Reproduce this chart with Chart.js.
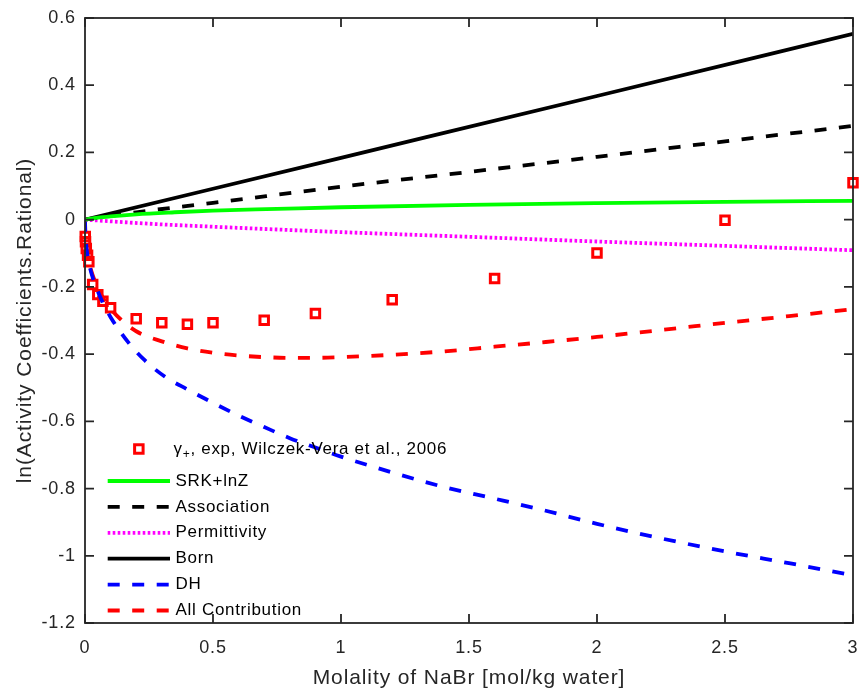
<!DOCTYPE html>
<html>
<head>
<meta charset="utf-8">
<script src="https://cdn.jsdelivr.net/npm/chart.js@4.4.1/dist/chart.umd.min.js"></script>
<style>
html,body{margin:0;padding:0;background:#ffffff;}
#wrap{width:862px;height:693px;}
canvas{display:block;}
</style>
</head>
<body>
<div id="wrap"><canvas id="chart" width="862" height="693"></canvas></div>
<script>
// ---------------- data ----------------
const expMolality = [0.001, 0.002, 0.005, 0.01, 0.015, 0.03, 0.05, 0.07, 0.1, 0.2, 0.3, 0.4, 0.5, 0.7, 0.9, 1.2, 1.6, 2.0, 2.5, 3.0];
const expLnGamma  = [-0.050, -0.066, -0.086, -0.106, -0.125, -0.193, -0.223, -0.243, -0.262, -0.295, -0.307, -0.311, -0.307, -0.299, -0.279, -0.238, -0.175, -0.099, -0.002, 0.110];

const srkMolality = [0, 0.05, 0.1, 0.2, 0.35, 0.5, 0.75, 1.0, 1.5, 2.0, 2.5, 3.0];
const srkValues   = [0, 0.006, 0.010, 0.016, 0.022, 0.027, 0.032, 0.037, 0.044, 0.049, 0.053, 0.056];

const assocMolality = [0, 0.2, 0.5, 1.0, 1.5, 2.0, 2.5, 3.0];
const assocValues   = [0, 0.022, 0.050, 0.098, 0.142, 0.187, 0.233, 0.279];

const permMolality = [0, 0.25, 0.5, 1.0, 1.5, 2.0, 2.5, 3.0];
const permValues   = [0, -0.012, -0.021, -0.037, -0.051, -0.065, -0.078, -0.091];

const bornMolality = [0, 1.0, 2.0, 3.0];
const bornValues   = [0, 0.184, 0.368, 0.553];

const dhMolality = [0, 0.001, 0.005, 0.01, 0.02, 0.03, 0.05, 0.07, 0.1, 0.17, 0.23, 0.31, 0.4, 0.5, 0.6, 0.7, 0.8, 0.9, 1.0, 1.2, 1.4, 1.6, 1.8, 2.0, 2.2, 2.5, 2.75, 3.0];
const dhValues   = [0, -0.035, -0.078, -0.107, -0.145, -0.172, -0.213, -0.248, -0.290, -0.366, -0.416, -0.466, -0.505, -0.545, -0.583, -0.617, -0.650, -0.678, -0.705, -0.752, -0.795, -0.830, -0.866, -0.905, -0.940, -0.987, -1.022, -1.058];

const allMolality = [0, 0.001, 0.005, 0.01, 0.02, 0.03, 0.05, 0.07, 0.1, 0.14, 0.2, 0.3, 0.4, 0.5, 0.6, 0.7, 0.8, 0.9, 1.0, 1.2, 1.4, 1.6, 1.8, 2.0, 2.3, 2.5, 2.75, 3.0];
const allValues   = [0, -0.035, -0.075, -0.103, -0.140, -0.165, -0.203, -0.232, -0.265, -0.297, -0.332, -0.362, -0.383, -0.396, -0.404, -0.409, -0.411, -0.411, -0.409, -0.402, -0.392, -0.378, -0.364, -0.349, -0.324, -0.307, -0.287, -0.266];

const xTickValues = [0, 0.5, 1, 1.5, 2, 2.5, 3];
const xTickLabels = ['0', '0.5', '1', '1.5', '2', '2.5', '3'];
const yTickValues = [-1.2, -1.0, -0.8, -0.6, -0.4, -0.2, 0, 0.2, 0.4, 0.6];
const yTickLabels = ['-1.2', '-1', '-0.8', '-0.6', '-0.4', '-0.2', '0', '0.2', '0.4', '0.6'];

const xTitle = 'Molality of NaBr [mol/kg water]';
const yTitle = 'ln(Activity Coefficients.Rational)';
const expLabelMain = 'γ';
const expLabelSub = '+';
const expLabelRest = ', exp, Wilczek-Vera et al., 2006';

// ---------------- styling ----------------
const FONT = "'Liberation Sans', Arial, Helvetica, sans-serif";
const TEXT = '#262626';
const LETTER_SPACING = '0.9px';
const LW = 3.8;

function pts(xs, ys) { return xs.map((x, i) => ({ x: x, y: ys[i] })); }

function lineSet(label, xs, ys, color, dash) {
  return {
    label: label,
    data: pts(xs, ys),
    showLine: true,
    borderColor: color,
    backgroundColor: color,
    borderWidth: LW,
    borderDash: dash,
    borderCapStyle: 'butt',
    pointRadius: 0,
    pointHoverRadius: 0,
    cubicInterpolationMode: 'monotone',
    fill: false,
    order: 1
  };
}

const datasets = [
  {
    label: 'exp',
    data: pts(expMolality, expLnGamma),
    showLine: false,
    pointStyle: 'rect',
    pointRadius: 6,
    pointHoverRadius: 6,
    pointBorderWidth: 3,
    borderColor: '#ff0000',
    pointBorderColor: '#ff0000',
    pointBackgroundColor: 'rgba(255,255,255,0)',
    clip: false,
    order: 10
  },
  lineSet('SRK+lnZ', srkMolality, srkValues, '#00ff00', []),
  lineSet('Association', assocMolality, assocValues, '#000000', [12, 12.5]),
  lineSet('Permittivity', permMolality, permValues, '#ff00ff', [2.6, 2.4]),
  lineSet('Born', bornMolality, bornValues, '#000000', []),
  lineSet('DH', dhMolality, dhValues, '#0000ff', [12, 12.5]),
  lineSet('All Contribution', allMolality, allValues, '#ff0000', [12, 12.5])
];

// ---------------- plugins ----------------
const spacingPlugin = {
  id: 'spacing',
  beforeLayout(c) { c.ctx.letterSpacing = LETTER_SPACING; },
  beforeDraw(c) { c.ctx.letterSpacing = LETTER_SPACING; }
};

const framePlugin = {
  id: 'frame',
  afterDatasetsDraw(c) {
    const ctx = c.ctx;
    const a = c.chartArea;
    const xs = c.scales.x, ys = c.scales.y;
    const TL = 9;
    ctx.save();
    ctx.strokeStyle = TEXT;
    ctx.lineWidth = 1.8;
    ctx.beginPath();
    xTickValues.forEach(v => {
      const p = xs.getPixelForValue(v);
      ctx.moveTo(p, a.bottom); ctx.lineTo(p, a.bottom - TL);
      ctx.moveTo(p, a.top); ctx.lineTo(p, a.top + TL);
    });
    yTickValues.forEach(v => {
      const p = ys.getPixelForValue(v);
      ctx.moveTo(a.left, p); ctx.lineTo(a.left + TL, p);
      ctx.moveTo(a.right, p); ctx.lineTo(a.right - TL, p);
    });
    ctx.stroke();
    ctx.strokeRect(a.left, a.top, a.right - a.left, a.bottom - a.top);
    ctx.restore();
  }
};

const legendPlugin = {
  id: 'mlegend',
  afterDraw(c) {
    const ctx = c.ctx;
    const a = c.chartArea;
    const x0 = a.left + 22.7, x1 = a.left + 85, tx = a.left + 90.5;
    const firstY = a.bottom - 174;
    const rowY = i => a.bottom - 142 + (i - 1) * 25.9;
    ctx.save();
    ctx.letterSpacing = '0.7px';
    ctx.textBaseline = 'middle';
    ctx.textAlign = 'left';
    ctx.fillStyle = '#000000';
    // experimental marker row
    const e = c.data.datasets[0];
    const mx = (x0 + x1) / 2;
    const s = e.pointRadius * Math.SQRT1_2;
    ctx.strokeStyle = e.pointBorderColor;
    ctx.lineWidth = e.pointBorderWidth;
    ctx.strokeRect(mx - s, firstY - s, 2 * s, 2 * s);
    ctx.font = '17px ' + FONT;
    ctx.fillText(expLabelMain, tx - 2, firstY);
    let w = ctx.measureText(expLabelMain).width;
    ctx.font = '12px ' + FONT;
    ctx.fillText(expLabelSub, tx - 2 + w, firstY + 6);
    w += ctx.measureText(expLabelSub).width;
    ctx.font = '17px ' + FONT;
    ctx.fillText(expLabelRest, tx - 2 + w, firstY);
    // line rows
    for (let i = 1; i < c.data.datasets.length; i++) {
      const d = c.data.datasets[i];
      const y = rowY(i);
      ctx.beginPath();
      ctx.setLineDash(d.borderDash || []);
      ctx.lineCap = 'butt';
      ctx.strokeStyle = d.borderColor;
      ctx.lineWidth = d.borderWidth;
      ctx.moveTo(x0, y);
      ctx.lineTo(x1, y);
      ctx.stroke();
      ctx.setLineDash([]);
      ctx.fillText(d.label, tx, y);
    }
    ctx.restore();
  }
};

// ---------------- chart ----------------
new Chart(document.getElementById('chart'), {
  type: 'scatter',
  data: { datasets: datasets },
  options: {
    responsive: false,
    animation: false,
    devicePixelRatio: 1,
    layout: { padding: { left: 0, top: 18, right: 3, bottom: 0 } },
    plugins: { legend: { display: false }, tooltip: { enabled: false } },
    scales: {
      x: {
        type: 'linear',
        min: 0, max: 3,
        afterBuildTicks: s => { s.ticks = xTickValues.map(v => ({ value: v })); },
        afterFit: s => { s.height = 70; s.paddingLeft = 0; s.paddingRight = 0; },
        ticks: {
          callback: (v) => xTickLabels[xTickValues.indexOf(v)],
          font: { family: FONT, size: 18 },
          color: TEXT,
          padding: 14,
          maxRotation: 0,
          autoSkip: false
        },
        grid: { display: false, drawTicks: false },
        border: { display: false },
        title: {
          display: true,
          text: xTitle,
          font: { family: FONT, size: 21 },
          color: TEXT,
          padding: { top: 0, bottom: 2 }
        }
      },
      y: {
        type: 'linear',
        min: -1.2, max: 0.6,
        afterBuildTicks: s => { s.ticks = yTickValues.map(v => ({ value: v })); },
        afterFit: s => { s.width = 85; s.paddingTop = 0; s.paddingBottom = 0; },
        ticks: {
          callback: (v) => yTickLabels[yTickValues.indexOf(v)],
          font: { family: FONT, size: 18 },
          color: TEXT,
          padding: 9,
          autoSkip: false
        },
        grid: { display: false, drawTicks: false },
        border: { display: false },
        title: {
          display: true,
          text: yTitle,
          font: { family: FONT, size: 21 },
          color: TEXT,
          padding: { top: 13, bottom: 0 }
        }
      }
    }
  },
  plugins: [spacingPlugin, framePlugin, legendPlugin]
});
</script>
</body>
</html>
